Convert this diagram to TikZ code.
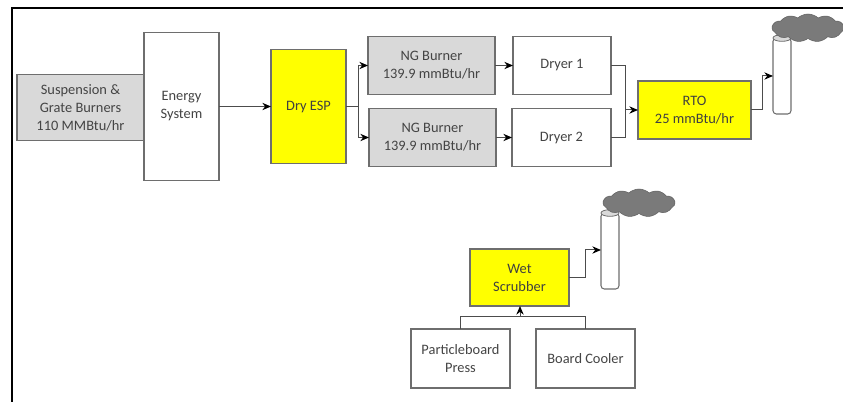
\documentclass[tikz,border=0pt]{standalone}
\usepackage{fontspec}
\setmainfont{Carlito}
\usetikzlibrary{arrows.meta,positioning,shapes.geometric,shapes.symbols}
\definecolor{ylw}{HTML}{FFFF00}
\definecolor{burn}{HTML}{D9D9D9}
\definecolor{edge}{HTML}{6E6E6E}
\definecolor{ink}{HTML}{444444}
\definecolor{smoke}{HTML}{7A7A7A}
\tikzset{
  box/.style   ={draw=edge,line width=.8pt,fill=white,align=center,text=ink,
                 font=\fontsize{10.8pt}{13.5pt}\selectfont,inner sep=2pt,outer sep=0pt},
  grey/.style  ={box,fill=burn},
  esp/.style   ={box,fill=ylw,text=black!75},
  stack/.style ={draw=edge,line width=.8pt,fill=white,rounded corners=2.5pt,
                 minimum width=13.5pt,minimum height=57pt,inner sep=0pt,outer sep=0pt},
  lid/.style   ={draw=edge,line width=.6pt,fill=burn,shape=ellipse,
                 minimum width=13.5pt,minimum height=5pt,inner sep=0pt,outer sep=0pt},
  smog/.style  ={draw=smoke!80!black,fill=smoke,shape=cloud,cloud puffs=11,cloud puff arc=85,
                 aspect=2.7,inner sep=0pt,minimum width=54pt,minimum height=21pt},
  ln/.style    ={line width=.75pt,black!70},
  a/.style     ={-{Stealth[length=6.5pt,width=5.5pt,black]},line width=.75pt,black!70},
}
\begin{document}
\begin{tikzpicture}[x=.75pt,y=-.75pt]
  \useasboundingbox (0,0) rectangle (843,402);
  % frame
  \coordinate (fl) at (11.5,402);
  \coordinate (fc) at (11.5,8);
  \coordinate (fr) at (843,8);
  \draw[black,line width=1.5pt] (fl) -- (fc) -- (fr);

  % top line
  \node[grey,minimum width=95.25pt,minimum height=49.5pt] (burner) at (80.5,107.5)
        {Suspension \&\\ Grate Burners\\ 110 MMBtu/hr};
  \node[box,minimum width=56.25pt,minimum height=111pt] (energy) at (181.5,106.5) {Energy\\ System};
  \node[esp,minimum width=56.25pt,minimum height=85.5pt] (dryesp) at (308.5,106.5) {Dry ESP};
  \node[grey,minimum width=95.25pt,minimum height=43.5pt] (ng1) at (431.5,65.5) {NG Burner\\ 139.9 mmBtu/hr};
  \node[grey,minimum width=95.25pt,minimum height=43.5pt] (ng2) at (432.5,137.5) {NG Burner\\ 139.9 mmBtu/hr};
  \node[box,minimum width=73.5pt,minimum height=43.5pt] (dry1) at (562,65.5) {Dryer 1};
  \node[box,minimum width=74.25pt,minimum height=43.5pt] (dry2) at (561.5,137.5) {Dryer 2};
  \node[esp,minimum width=84.75pt,minimum height=43.5pt] (rto) at (694.5,110) {RTO\\ 25 mmBtu/hr};
  \node[stack] (stack1) at (782,76) {};
  \node[lid] (lid1) at (stack1.north) {};
  \node[smog] (cloud1) at (808,28) {};

  % bottom line
  \node[esp,minimum width=74.25pt,minimum height=42.75pt] (wet) at (519.5,277.5) {Wet\\ Scrubber};
  \node[box,minimum width=74.25pt,minimum height=44.25pt] (press) at (460.5,358.5) {Particleboard\\ Press};
  \node[box,minimum width=74.25pt,minimum height=44.25pt] (cooler) at (585.5,358.5) {Board Cooler};
  \node[stack] (stack2) at (610,251) {};
  \node[lid] (lid2) at (stack2.north) {};
  \node[smog] (cloud2) at (639,203) {};

  % connectors
  \coordinate (split) at (358,106.5);
  \coordinate (merge) at (625,110);
  \coordinate (in1) at (stack1.west |- 0,76);
  \coordinate (in2) at (stack2.west |- 0,250);
  \coordinate (mix) at (520,317);
  \draw[a] (energy.east |- dryesp.west) -- (dryesp.west);
  \draw[ln] (dryesp.east) -- (split);
  \draw[a] (split) |- (ng1.west);
  \draw[a] (split) |- (ng2.west);
  \draw[a] (ng1.east) -- (dry1.west);
  \draw[a] (ng2.east) -- (dry2.west);
  \draw[ln] (dry1.east) -| (merge);
  \draw[ln] (dry2.east) -| (merge);
  \draw[a] (merge) -- (rto.west);
  \draw[a] (rto.east) -- ++(11,0) |- (in1);
  \draw[a] (wet.east) -- ++(16,0) |- (in2);
  \draw[ln] (press.north) |- (mix);
  \draw[ln] (cooler.north) |- (mix);
  \draw[a] (mix) -- (wet.south -| mix);
\end{tikzpicture}
\end{document}
